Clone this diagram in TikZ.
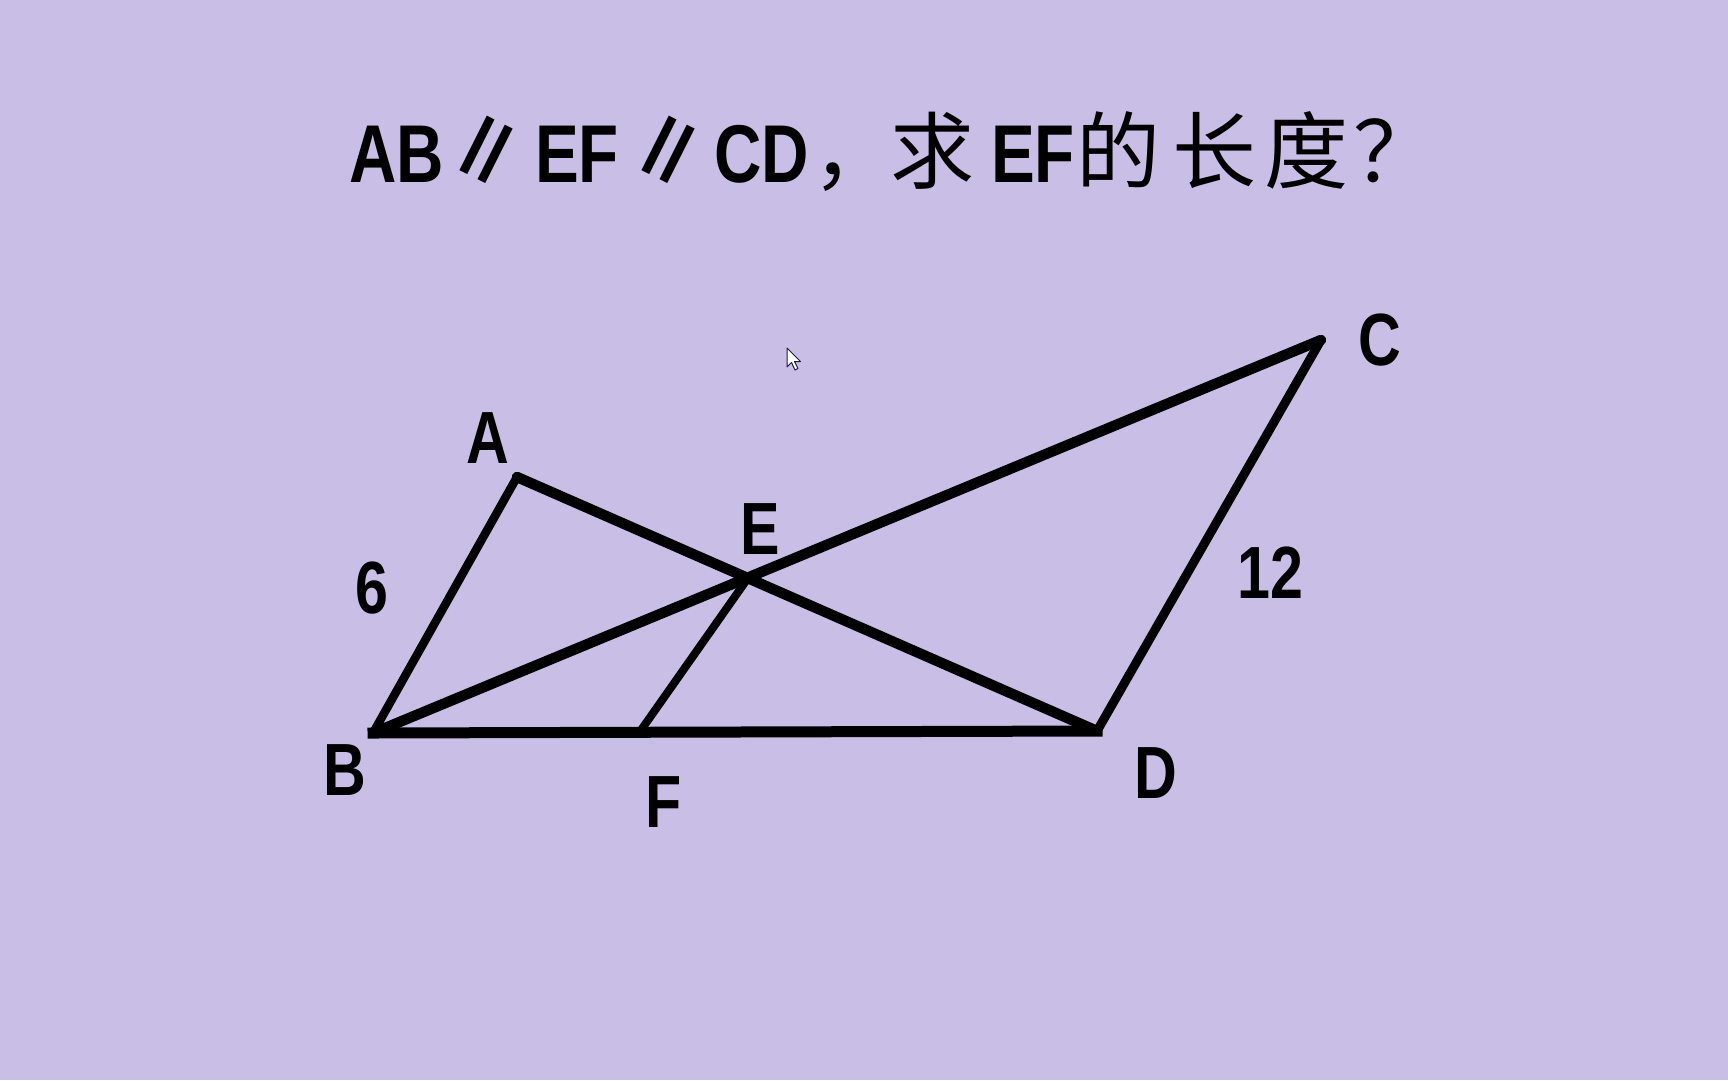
\documentclass[tikz,border=0pt]{standalone}
\usepackage{fontspec}
\newfontfamily\latf[FakeStretch=0.8,UprightFont=* Bold]{Liberation Sans}
\newfontfamily\cjk[BoldFont=* Bold]{Noto Sans CJK SC}
\definecolor{bg}{RGB}{201,191,230}
\definecolor{cursorline}{RGB}{30,30,70}
\tikzset{
  lbl/.style={inner sep=0pt, anchor=base, font=\latf\fontsize{74}{80}\selectfont},
  ttl/.style={inner sep=0pt, anchor=base, font=\latf\fontsize{82}{90}\selectfont},
  ttlcjk/.style={inner sep=0pt, anchor=base, font=\cjk\fontsize{84}{90}\selectfont},
  ttlpar/.style={inner sep=0pt, anchor=base, font=\cjk\bfseries\fontsize{86}{90}\selectfont},
  thickseg/.style={line width=10.5pt, line cap=round, line join=round},
  thinseg/.style={line width=8.5pt, line cap=round, line join=round},
}
\begin{document}
\begin{tikzpicture}[x=1pt,y=-1pt]
\path[fill=bg,use as bounding box] (0,0) rectangle (1728,1080);
% title
\node[ttl] (t1) at (397,182) {AB};
\node[ttlpar] (p1) at (486,182) {∥};
\node[ttl] (t2) at (577,182) {EF};
\node[ttlpar] (p2) at (668,182) {∥};
\node[ttl] (t3) at (762,182) {CD};
\node[ttlcjk,anchor=base west] (t4) at (812,182) {，};
\node[ttlcjk] (t5) at (932,182) {求};
\node[ttl] (t6) at (1033,182) {EF};
\node[ttlcjk] (t7) at (1118,182) {的};
\node[ttlcjk] (t8) at (1214,182) {长};
\node[ttlcjk] (t9) at (1306,182) {度};
\node[ttlcjk] (t10) at (1395,182) {？};
% points
\coordinate (A) at (517,477);
\coordinate (B) at (373,733);
\coordinate (C) at (1321,340);
\coordinate (D) at (1097,731);
\coordinate (E) at (748,578);
\coordinate (F) at (639,733);
% segments
\draw[thinseg] (B) -- (A);
\draw[thickseg] (A) -- (D);
\draw[thickseg] (B) -- (C);
\draw[thinseg, line width=9pt] (C) -- (D);
\draw[line width=11pt, line cap=rect] (B) -- (D);
\draw[thinseg, line width=8pt] (E) -- (F);
% labels
\node[lbl] (lA) at (488,463) {A};
\node[lbl] (lB) at (345,795) {B};
\node[lbl] (lC) at (1380,365) {C};
\node[lbl] (lD) at (1156,798) {D};
\node[lbl] (lE) at (760,554) {E};
\node[lbl] (lF) at (664,827) {F};
\node[lbl] (l6) at (372,613) {6};
\node[lbl] (l12) at (1270,598) {12};
% mouse cursor
\coordinate (cur) at (787,348);
\draw[cursorline, fill=white, line width=1pt, line join=round, shift={(cur)}]
  (0,0) -- (0,19) -- (4.5,14.5) -- (8,22) -- (11,20.5) -- (7.5,13.5) -- (13.5,13.5) -- cycle;
\end{tikzpicture}
\end{document}
